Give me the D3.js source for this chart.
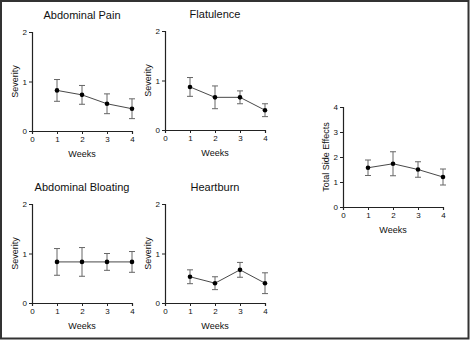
<!DOCTYPE html>
<html>
<head>
<meta charset="utf-8">
<script src="https://cdn.jsdelivr.net/npm/d3@7"></script>
<style>
  body { margin: 0; background: #fff; }
  text { font-family: "Liberation Sans", Arial, sans-serif; fill: #111; }
</style>
</head>
<body>
<div id="chart"></div>
<script>
// data: mean severity and error per week
var weeks = [1, 2, 3, 4];
var painMean = [0.82, 0.73, 0.55, 0.45];
var painErr = [0.22, 0.19, 0.2, 0.2];
var flatMean = [0.87, 0.66, 0.66, 0.4];
var flatErr = [0.19, 0.23, 0.13, 0.13];
var bloatMean = [0.83, 0.83, 0.83, 0.83];
var bloatErr = [0.27, 0.29, 0.17, 0.21];
var heartMean = [0.53, 0.4, 0.67, 0.4];
var heartErr = [0.14, 0.13, 0.15, 0.21];
var totalMean = [1.57, 1.73, 1.5, 1.2];
var totalErr = [0.31, 0.48, 0.31, 0.32];
var xTicks = [0, 1, 2, 3, 4];

var width = 470, height = 340;

var svg = d3.select("#chart")
    .append("svg")
    .attr("width", width)
    .attr("height", height);

// outer frame
svg.append("rect")
    .attr("x", 1).attr("y", 1)
    .attr("width", width - 2.5).attr("height", height - 2.5)
    .attr("fill", "none")
    .attr("stroke", "#333")
    .attr("stroke-width", 2);

var panels = [
    { title: "Abdominal Pain", ylab: "Severity", mean: painMean, err: painErr, yMax: 2, x0: 32, y0: 131, h: 99 },
    { title: "Flatulence", ylab: "Severity", mean: flatMean, err: flatErr, yMax: 2, x0: 165, y0: 130, h: 99 },
    { title: "Abdominal Bloating", ylab: "Severity", mean: bloatMean, err: bloatErr, yMax: 2, x0: 32, y0: 303, h: 99 },
    { title: "Heartburn", ylab: "Severity", mean: heartMean, err: heartErr, yMax: 2, x0: 165, y0: 303, h: 99 },
    { title: null, ylab: "Total Side Effects", mean: totalMean, err: totalErr, yMax: 4, x0: 343, y0: 207, h: 100 }
];

panels.forEach(function(p) {
    var x = d3.scaleLinear().domain([0, 4]).range([p.x0, p.x0 + 100]);
    var y = d3.scaleLinear().domain([0, p.yMax]).range([p.y0, p.y0 - p.h]);
    var g = svg.append("g");

    var xAxis = g.append("g")
        .attr("transform", "translate(0," + p.y0 + ")")
        .call(d3.axisBottom(x).tickValues(xTicks).tickFormat(d3.format("d")).tickSize(3).tickPadding(2));
    var yAxis = g.append("g")
        .attr("transform", "translate(" + p.x0 + ",0)")
        .call(d3.axisLeft(y).ticks(p.yMax).tickFormat(d3.format("d")).tickSize(3).tickPadding(2));
    [xAxis, yAxis].forEach(function(a) {
        a.selectAll(".domain").attr("stroke", "#222").attr("stroke-width", 1.2);
        a.selectAll(".tick line").attr("stroke", "#222");
        a.selectAll("text").style("font-size", "8px").attr("fill", "#111")
            .style("font-family", "'Liberation Sans', Arial, sans-serif");
    });

    // error bars
    var bars = g.selectAll(".err")
        .data(weeks)
        .enter()
        .append("g")
        .attr("stroke", "#666")
        .attr("stroke-width", 1);
    bars.append("line")
        .attr("x1", d => x(d)).attr("x2", d => x(d))
        .attr("y1", (d, i) => y(p.mean[i] + p.err[i]))
        .attr("y2", (d, i) => y(p.mean[i] - p.err[i]));
    bars.append("line")
        .attr("x1", d => x(d) - 3).attr("x2", d => x(d) + 3)
        .attr("y1", (d, i) => y(p.mean[i] + p.err[i]))
        .attr("y2", (d, i) => y(p.mean[i] + p.err[i]));
    bars.append("line")
        .attr("x1", d => x(d) - 3).attr("x2", d => x(d) + 3)
        .attr("y1", (d, i) => y(p.mean[i] - p.err[i]))
        .attr("y2", (d, i) => y(p.mean[i] - p.err[i]));

    // connecting line
    var line = d3.line()
        .x(d => x(d))
        .y((d, i) => y(p.mean[i]));
    g.append("path")
        .datum(weeks)
        .attr("d", line)
        .attr("fill", "none")
        .attr("stroke", "#333")
        .attr("stroke-width", 0.9);

    // points
    g.selectAll(".pt")
        .data(weeks)
        .enter()
        .append("circle")
        .attr("cx", d => x(d))
        .attr("cy", (d, i) => y(p.mean[i]))
        .attr("r", 2.3)
        .attr("fill", "#000");

    // labels
    if (p.title) {
        g.append("text")
            .attr("x", p.x0 + 50)
            .attr("y", p.y0 - 112)
            .attr("text-anchor", "middle")
            .style("font-size", "11px")
            .text(p.title);
    }
    g.append("text")
        .attr("x", p.x0 + 50)
        .attr("y", p.y0 + 26)
        .attr("text-anchor", "middle")
        .style("font-size", "9px")
        .text("Weeks");
    g.append("text")
        .attr("transform", "translate(" + (p.x0 - 14) + "," + (p.y0 - p.h / 2) + ") rotate(-90)")
        .attr("text-anchor", "middle")
        .style("font-size", "9px")
        .text(p.ylab);
});
</script>
</body>
</html>
